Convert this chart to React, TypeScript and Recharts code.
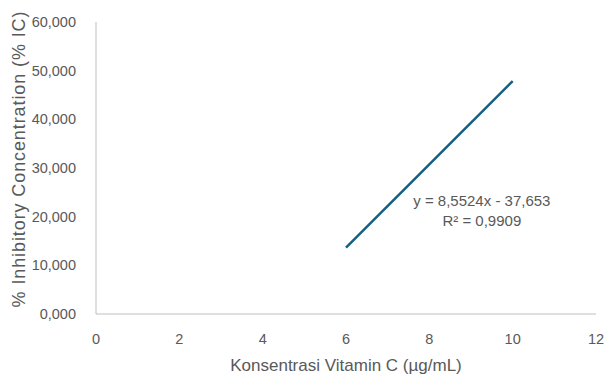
import { LineChart, Line, XAxis, YAxis, ReferenceDot } from "recharts";

const xValues = [6, 10];
const icValues = [13.66, 47.87];
const xTicks = [0, 2, 4, 6, 8, 10, 12];
const yTicks = [0, 10, 20, 30, 40, 50, 60];
const equationText = "y = 8,5524x - 37,653";
const r2Text = "R² = 0,9909";
const xTitle = "Konsentrasi Vitamin C (µg/mL)";
const yTitle = "% Inhibitory Concentration (% IC)";

const data = xValues.map((x, i) => ({ x, ic: icValues[i] }));

const FONT = "'Liberation Sans', Arial, sans-serif";
const GREY = "#595959";
const AXIS = "#bfbfbf";

const fmt = (v: number) => v.toFixed(3).replace(".", ",");

function EquationLabel(props: any) {
  const { viewBox } = props;
  const cx = viewBox.x + (viewBox.width ?? 0) / 2;
  const cy = viewBox.y + (viewBox.height ?? 0) / 2;
  return (
    <text x={cx} y={cy} textAnchor="middle" fill={GREY} fontSize={15} fontFamily={FONT}>
      <tspan x={cx} dy={-5}>{equationText}</tspan>
      <tspan x={cx} dy={20}>{r2Text}</tspan>
    </text>
  );
}

function XTitle(props: any) {
  const { viewBox } = props;
  const cx = viewBox.x + viewBox.width / 2;
  return (
    <text x={cx} y={371} textAnchor="middle" fill={GREY} fontSize={17} fontFamily={FONT}>
      {xTitle}
    </text>
  );
}

function YTitle(props: any) {
  const { viewBox } = props;
  const cy = viewBox.y + viewBox.height / 2 - 9;
  const cx = 19;
  return (
    <text
      x={cx}
      y={cy}
      transform={`rotate(-90 ${cx} ${cy})`}
      textAnchor="middle"
      dominantBaseline="central"
      fill={GREY}
      fontSize={18}
      letterSpacing={0.9}
      fontFamily={FONT}
    >
      {yTitle}
    </text>
  );
}

export default function App() {
  return (
    <div style={{ position: "absolute", left: 0, top: 0, width: 606, height: 374, background: "#fff" }}>
      <LineChart width={606} height={374} data={data} margin={{ top: 22, right: 10, bottom: 0, left: 0 }}>
        <XAxis
          type="number"
          dataKey="x"
          domain={[0, 12]}
          ticks={xTicks}
          tickLine={false}
          axisLine={{ stroke: AXIS }}
          tick={{ fill: GREY, fontSize: 14.5, fontFamily: FONT }}
          tickMargin={14}
          height={60}
          label={<XTitle />}
        />
        <YAxis
          type="number"
          domain={[0, 60]}
          ticks={yTicks}
          tickFormatter={fmt}
          tickLine={false}
          axisLine={{ stroke: AXIS }}
          tick={{ fill: GREY, fontSize: 14.5, fontFamily: FONT }}
          tickMargin={14}
          width={96}
          label={<YTitle />}
        />
        <Line
          dataKey="ic"
          stroke="#156082"
          strokeWidth={2.5}
          dot={false}
          activeDot={false}
          isAnimationActive={false}
        />
        <ReferenceDot x={9.26} y={21.2} r={0} fill="none" stroke="none" label={<EquationLabel />} />
      </LineChart>
    </div>
  );
}
